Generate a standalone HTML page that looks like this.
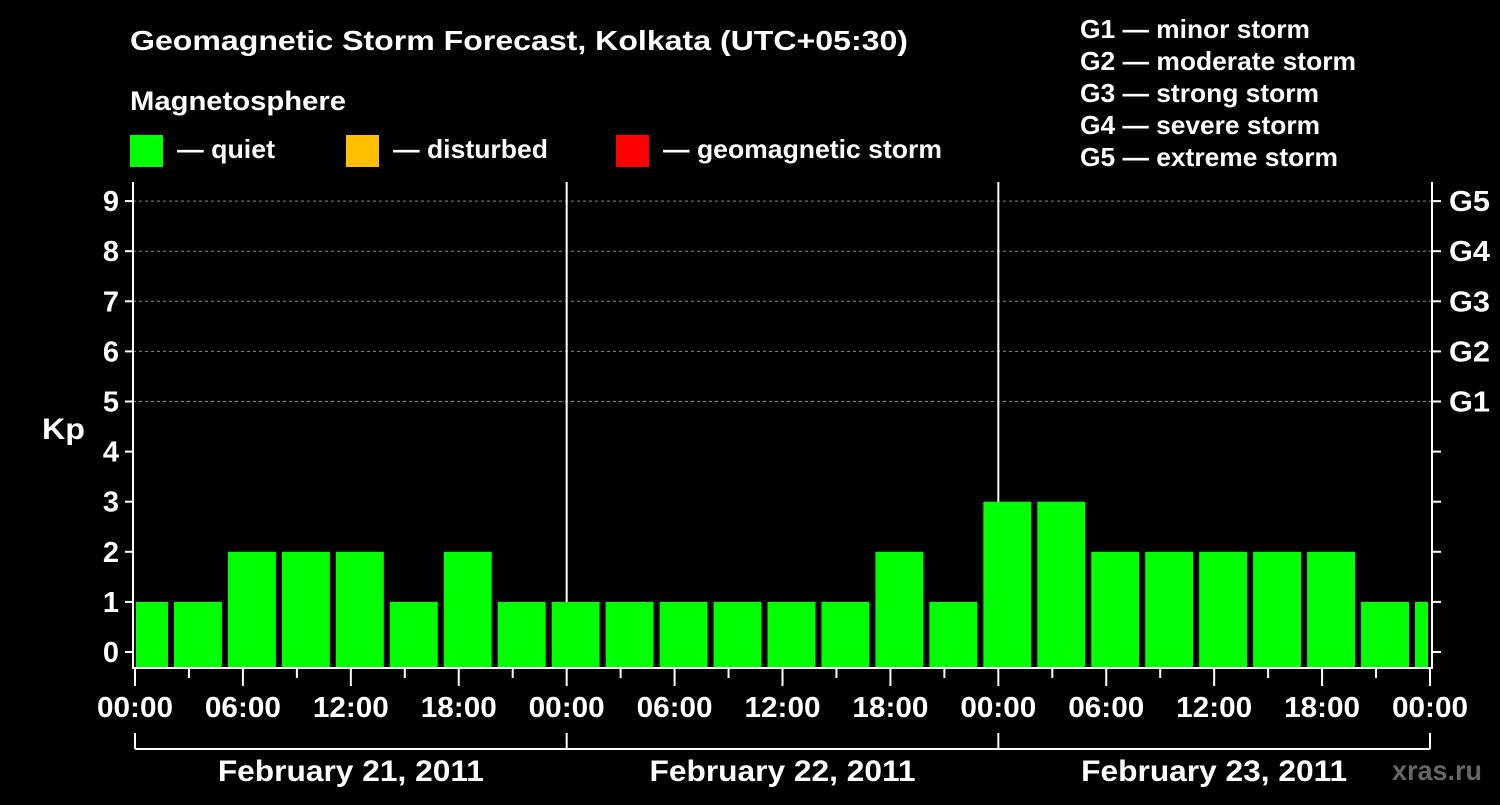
<!DOCTYPE html>
<html><head><meta charset="utf-8"><style>
html,body{margin:0;padding:0;background:#000;}
svg text{font-family:"Liberation Sans",Arial,sans-serif;font-weight:bold;fill:#fff;}
</style></head><body>
<svg id="chart" width="1500" height="800" viewBox="0 0 1500 800" xmlns="http://www.w3.org/2000/svg">
<rect width="1500" height="800" fill="#000"/>
<text x="130" y="50" font-size="28" textLength="778" lengthAdjust="spacingAndGlyphs">Geomagnetic Storm Forecast, Kolkata (UTC+05:30)</text>
<text x="130" y="110" font-size="27" textLength="216" lengthAdjust="spacingAndGlyphs">Magnetosphere</text>
<g><rect x="130" y="135" width="33" height="32" fill="#00ff00"/><text x="177" y="158" font-size="26" textLength="98" lengthAdjust="spacingAndGlyphs">— quiet</text></g>
<g><rect x="346" y="135" width="33" height="32" fill="#ffc000"/><text x="393" y="158" font-size="26" textLength="155" lengthAdjust="spacingAndGlyphs">— disturbed</text></g>
<g><rect x="616" y="135" width="33" height="32" fill="#ff0000"/><text x="663" y="158" font-size="26" textLength="279" lengthAdjust="spacingAndGlyphs">— geomagnetic storm</text></g>
<g font-size="26">
<text x="1080" y="38" textLength="230" lengthAdjust="spacingAndGlyphs">G1 — minor storm</text>
<text x="1080" y="70" textLength="276" lengthAdjust="spacingAndGlyphs">G2 — moderate storm</text>
<text x="1080" y="102" textLength="239" lengthAdjust="spacingAndGlyphs">G3 — strong storm</text>
<text x="1080" y="134" textLength="240" lengthAdjust="spacingAndGlyphs">G4 — severe storm</text>
<text x="1080" y="166" textLength="258" lengthAdjust="spacingAndGlyphs">G5 — extreme storm</text>
</g>
<text x="42" y="439" font-size="30" textLength="43" lengthAdjust="spacingAndGlyphs">Kp</text>
<g id="grid"></g><g id="bars"></g><g id="axes"></g>
<text x="1392" y="780" font-size="28" style="fill:#666" textLength="90" lengthAdjust="spacingAndGlyphs">xras.ru</text>
</svg>
<script>
const kpValues=[1,1,2,2,2,1,2,1,1,1,1,1,1,1,2,1,3,3,2,2,2,2,2,1,1];
const barStartHour=-1;
const yTicks=[0,1,2,3,4,5,6,7,8,9];
const gLabels=["G1","G2","G3","G4","G5"];
const gLevels=[5,6,7,8,9];
const xLabels=["00:00","06:00","12:00","18:00","00:00","06:00","12:00","18:00","00:00","06:00","12:00","18:00","00:00"];
const dayLabels=["February 21, 2011","February 22, 2011","February 23, 2011"];
const NS="http://www.w3.org/2000/svg";
const L=133,R=1432,T=182,B=668,X0=135,X1=1430,H=72;
const x=h=>X0+(X1-X0)*h/H;
const y=v=>652-v*50.1;
function mk(parent,tag,attrs){const e=document.createElementNS(NS,tag);for(const k in attrs)e.setAttribute(k,attrs[k]);document.getElementById(parent).appendChild(e);return e;}
gLevels.forEach((v,i)=>{
 const l=mk('grid','line',{x1:L,x2:R,y1:y(v),y2:y(v),stroke:'#888','stroke-dasharray':'3,3','stroke-width':1});
 
 
});
[24,48].forEach(h=>{
 const l=mk('grid','line',{x1:x(h),x2:x(h),y1:T,y2:B,stroke:'#fff','stroke-width':2});
 
 
});
kpValues.forEach((v,i)=>{
 const h0=barStartHour+i*3,h1=h0+3;
 let a=x(h0)+3,b=x(h1)-3;
 if(a<L+2)a=L+3; if(b>R-3)b=R-4;
 if(b<=a)return;
 const col=v>=5?'#ff0000':(v>=4?'#ffc000':'#00ff00');
 const r=mk('bars','rect',{x:a,y:y(v),width:b-a,height:B-1-y(v),fill:col});
 
 
});
const frame=mk('axes','path',{d:`M${L} ${T}V${B}H${R}V${T}`,stroke:'#fff','stroke-width':2,fill:'none'});


yTicks.forEach(v=>{
 mk('axes','line',{x1:L-8,x2:L,y1:y(v),y2:y(v),stroke:'#fff','stroke-width':2});
 mk('axes','line',{x1:R,x2:R+9,y1:y(v),y2:y(v),stroke:'#fff','stroke-width':2});
 const t=mk('axes','text',{x:L-14,y:y(v)+10,'text-anchor':'end','font-size':29});
 t.textContent=v;
 
 
});
gLevels.forEach((v,i)=>{
 const t=mk('axes','text',{x:1449,y:y(v)+10,'font-size':29,textLength:41,lengthAdjust:'spacingAndGlyphs'});
 t.textContent=gLabels[i];
 
 
});
for(let h=0;h<=H;h+=3){
 const major=h%6===0;
 mk('axes','line',{x1:x(h),x2:x(h),y1:B,y2:B+(major?18:10),stroke:'#fff','stroke-width':2});
}
xLabels.forEach((s,i)=>{
 const t=mk('axes','text',{x:x(i*6),y:717,'text-anchor':'middle','font-size':29,textLength:76,lengthAdjust:'spacingAndGlyphs'});
 t.textContent=s;
 
 
});
mk('axes','line',{x1:x(0),x2:x(72),y1:749,y2:749,stroke:'#fff','stroke-width':2});
[0,24,48,72].forEach(h=>mk('axes','line',{x1:x(h),x2:x(h),y1:733,y2:749,stroke:'#fff','stroke-width':2}));
dayLabels.forEach((s,i)=>{
 const t=mk('axes','text',{x:x(i*24+12),y:781,'text-anchor':'middle','font-size':30,textLength:266,lengthAdjust:'spacingAndGlyphs'});
 t.textContent=s;
 
 
});
</script>
</body></html>
